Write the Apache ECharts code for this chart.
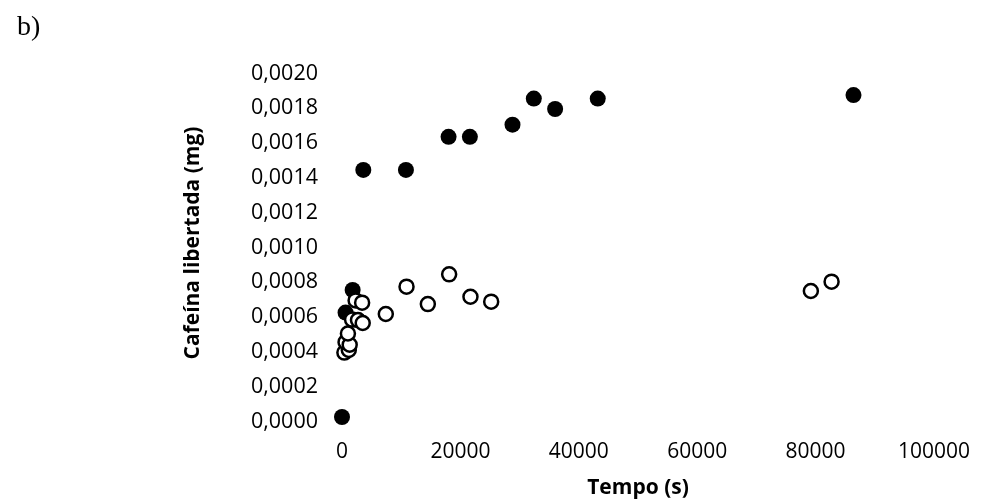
<!DOCTYPE html>
<html>
<head>
<meta charset="utf-8">
<script src="https://cdn.jsdelivr.net/npm/echarts@6/dist/echarts.min.js"></script>
<style>
  html, body { margin: 0; padding: 0; background: #fff; }
  #chart { width: 981px; height: 504px; }
</style>
</head>
<body>
<div id="chart"></div>
<script>
// 数据：实心点
var tempoCheio = [0, 600, 1800, 3600, 10800, 18000, 21600, 28800, 32400, 36000, 43200, 86400];
var cafeinaCheio = [0, 0.0006, 0.00073, 0.00142, 0.00142, 0.00161, 0.00161, 0.00168, 0.00183, 0.00177, 0.00183, 0.00185];
// 数据：空心点
var tempoVazio = [400, 1150, 600, 1300, 1000, 1700, 2700, 3500, 2300, 3400, 7400, 10900, 14500, 18100, 21700, 25200, 79200, 82700];
var cafeinaVazio = [0.00037, 0.000385, 0.00043, 0.000415, 0.00048, 0.00056, 0.000557, 0.00054, 0.00067, 0.000657, 0.000592, 0.000749, 0.000649, 0.00082, 0.000691, 0.000663, 0.000724, 0.000778];
// 刻度
var xTicks = [0, 20000, 40000, 60000, 80000, 100000];
var yTicks = [0, 0.0002, 0.0004, 0.0006, 0.0008, 0.001, 0.0012, 0.0014, 0.0016, 0.0018, 0.002];

function pares(xs, ys) {
  return xs.map(function (x, i) { return [x, ys[i]]; });
}

var chart = echarts.init(document.getElementById('chart'));
var fonte = 'Open Sans';
var option = {
  backgroundColor: '#fff',
  animation: false,
  title: {
    text: 'b)',
    left: 12,
    top: 9,
    textStyle: { fontFamily: 'Liberation Serif', fontSize: 28, fontWeight: 'normal', color: '#000' }
  },
  grid: { left: 342, right: 47, top: 69, bottom: 87 },
  xAxis: {
    type: 'value',
    min: xTicks[0],
    max: xTicks[xTicks.length - 1],
    interval: xTicks[1] - xTicks[0],
    name: 'Tempo (s)',
    nameLocation: 'middle',
    nameGap: 61,
    nameTextStyle: { fontFamily: fonte, fontSize: 21, fontWeight: 'bold', color: '#000' },
    axisLine: { show: false },
    axisTick: { show: false },
    splitLine: { show: false },
    axisLabel: {
      margin: 25,
      fontFamily: fonte, fontSize: 21, color: '#000',
      formatter: function (v) { return String(Math.round(v)); }
    }
  },
  yAxis: {
    type: 'value',
    min: yTicks[0],
    max: yTicks[yTicks.length - 1],
    interval: 0.0002,
    name: 'Cafeína libertada (mg)',
    nameLocation: 'middle',
    nameGap: 138,
    nameTextStyle: { fontFamily: fonte, fontSize: 21, fontWeight: 'bold', color: '#000' },
    axisLine: { show: false },
    axisTick: { show: false },
    splitLine: { show: false },
    axisLabel: {
      margin: 24,
      verticalAlign: 'top',
      lineHeight: 9,
      fontFamily: fonte, fontSize: 21.5, color: '#000',
      formatter: function (v) { return v.toFixed(4).replace('.', ','); }
    }
  },
  series: [
    {
      type: 'scatter',
      data: pares(tempoCheio, cafeinaCheio),
      symbolSize: 16,
      itemStyle: { color: '#000', opacity: 1 }
    },
    {
      type: 'scatter',
      data: pares(tempoVazio, cafeinaVazio),
      symbolSize: 14,
      itemStyle: { color: '#fff', borderColor: '#000', borderWidth: 2.5, opacity: 1 }
    }
  ]
};
chart.setOption(option);
</script>
</body>
</html>
